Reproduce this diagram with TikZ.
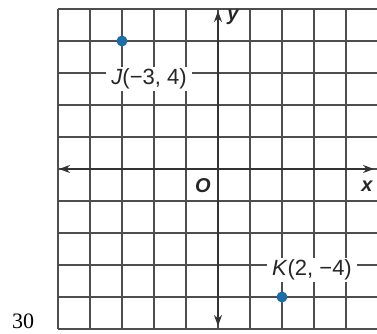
\documentclass[tikz,border=0pt]{standalone}
\usepackage{fontspec}
\setmainfont{Liberation Serif}
\newfontfamily\lsans{Liberation Sans}
\usetikzlibrary{arrows.meta}
\definecolor{gridc}{HTML}{4E4E4E}
\definecolor{axisc}{HTML}{333333}
\definecolor{dotc}{HTML}{1B6FA8}
\definecolor{txtc}{HTML}{262626}
\tikzset{
  gridline/.style={draw=gridc, line width=2pt},
  axisline/.style={draw=axisc, line width=2.4pt, -{Stealth[length=11pt,width=8pt]}},
  ptdot/.style={circle, fill=dotc, inner sep=0pt, minimum size=11pt},
  ptlabel/.style={fill=white, text=txtc, inner xsep=5pt, inner ysep=2pt, font=\lsans\fontsize{22}{22}\selectfont},
  axlabel/.style={text=txtc, inner sep=0pt, font=\lsans\bfseries\itshape\fontsize{20}{20}\selectfont}
}
\begin{document}
\begin{tikzpicture}[x=1pt,y=1pt]
\useasboundingbox (0,0) rectangle (377,333);
\begin{scope}
\clip (0,0) rectangle (377,333);
% grid
\foreach \i in {0,...,10} {
  \draw[gridline] (58+32*\i,4) -- (58+32*\i,324);
  \draw[gridline] (58,4+32*\i) -- (378,4+32*\i);
}
\end{scope}
% labels with white backgrounds (drawn over grid)
\node[ptlabel] (jl) at (149,254) {\textit{J}(−3, 4)};
\node[ptlabel] (kl) at (312,63) {\textit{K}(2, −4)};
% axes
\coordinate (xl) at (59,164);
\coordinate (xr) at (374,164);
\coordinate (yb) at (218,7);
\coordinate (yt) at (218,322);
\draw[axisline] (218,164) -- (xr);
\draw[axisline] (218,164) -- (xl);
\draw[axisline] (218,164) -- (yt);
\draw[axisline] (218,164) -- (yb);
% axis labels
\node[axlabel] (ylab) at (233,316) {y};
\node[axlabel] (xlab) at (367,147) {x};
\node[axlabel] (olab) at (203,147) {O};
% points
\node[ptdot] (J) at (122,292) {};
\node[ptdot] (K) at (282,36) {};
% page number
\node[anchor=base west, inner sep=0pt, text=black, font=\fontsize{22}{22}\selectfont] (pg) at (12,5) {30};
\end{tikzpicture}
\end{document}
